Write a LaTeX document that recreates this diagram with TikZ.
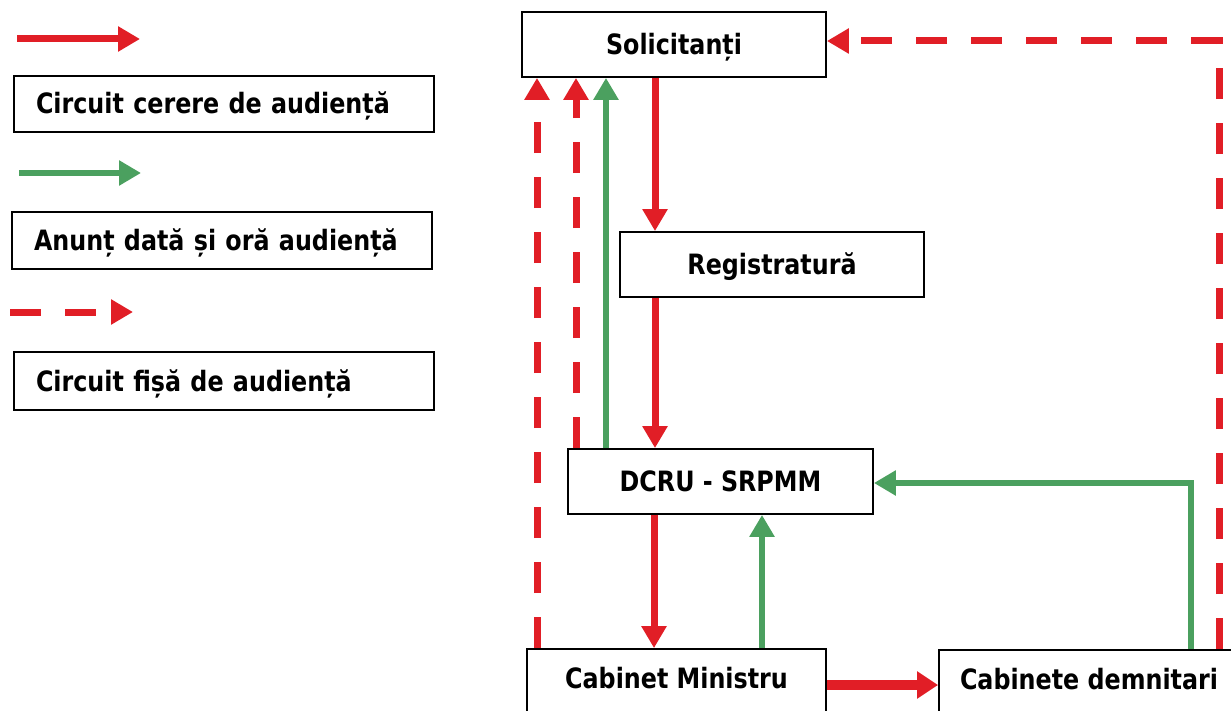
\documentclass[tikz,border=0pt]{standalone}
\usepackage{fontspec}
\setmainfont{DejaVu Sans}[FakeStretch=0.85]
\usetikzlibrary{arrows.meta}
\definecolor{cred}{RGB}{225,30,38}
\definecolor{cgreen}{RGB}{75,160,95}
\begin{document}
\begin{tikzpicture}[x=1pt,y=-1pt,
  txt/.style={font=\fontsize{28}{33}\selectfont\bfseries},
  box/.style={txt,draw=black,line width=1.8pt,inner sep=0pt,minimum width=304pt,minimum height=65pt,text height=20pt,text depth=0pt},
  lowbox/.style={txt,draw=black,line width=1.8pt,inner xsep=0pt,inner ysep=19pt,minimum width=300pt,text height=20pt,text depth=40pt},
  legbox/.style={txt,draw=black,line width=1.8pt,inner xsep=22pt,inner ysep=0pt,text width=376pt,align=left,text height=20pt,text depth=0pt},
  redarr/.style={draw=cred,line width=7pt,-{Triangle[length=22pt,width=24pt]}},
  greenarr/.style={draw=cgreen,line width=6pt,-{Triangle[length=22pt,width=24pt]}},
  dasharr/.style={draw=cred,line width=7pt,dash pattern=on 31pt off 24pt,-{Triangle[length=22pt,width=24pt]}},
]
\path[use as bounding box] (0,0) rectangle (1231,711);
\clip (0,0) rectangle (1231,711);
\fill[white] (0,0) rectangle (1231,711);

% legend
\coordinate (lr1) at (17,39);  \coordinate (lr2) at (140,39);
\coordinate (lg1) at (19,173); \coordinate (lg2) at (141,173);
\coordinate (ld1) at (10,312); \coordinate (ld2) at (133,312);
\draw[redarr] (lr1) -- (lr2);
\draw[greenarr] (lg1) -- (lg2);
\draw[dasharr] (ld1) -- (ld2);
\node[legbox,minimum height=56pt] (leg1) at (224,104) {Circuit cerere de audiență};
\node[legbox,minimum height=57pt] (leg2) at (222,240.5) {Anunț dată și oră audiență};
\node[legbox,minimum height=58pt] (leg3) at (224,381) {Circuit fișă de audiență};

% main boxes
\node[box] (sol) at (674,44.5) {Solicitanți};
\node[box] (reg) at (772,264.5) {Registratură};
\node[box,minimum width=305pt] (dcru) at (720.5,481.5) {DCRU - SRPMM};
\node[lowbox,minimum width=299pt] (cab) at (676.5,698) {Cabinet Ministru};
\node[lowbox] (dem) at (1089,699) {Cabinete demnitari};

% connectors
\draw[redarr] (655,0 |- sol.south) -- (655,0 |- reg.north);
\draw[redarr] (655,0 |- reg.south) -- (655,0 |- dcru.north);
\draw[greenarr] (606,0 |- dcru.north) -- (606,0 |- sol.south);
\draw[dasharr] (576,0 |- dcru.north) -- (576,0 |- sol.south);
\draw[dasharr] (537,0 |- cab.north) -- (537,0 |- sol.south);
\draw[redarr] (654,0 |- dcru.south) -- (654,0 |- cab.north);
\draw[greenarr] (762,0 |- cab.north) -- (762,0 |- dcru.south);
\draw[draw=cred,line width=10pt,-{Triangle[length=21pt,width=26pt]}] (cab.east |- 0,685) -- (dem.west |- 0,685);
\draw[greenarr] (1191,0 |- dem.north) |- (dcru.east |- 0,483);
\draw[dasharr] (1219,0 |- dem.north) |- (sol.east |- 0,41);
\end{tikzpicture}
\end{document}
